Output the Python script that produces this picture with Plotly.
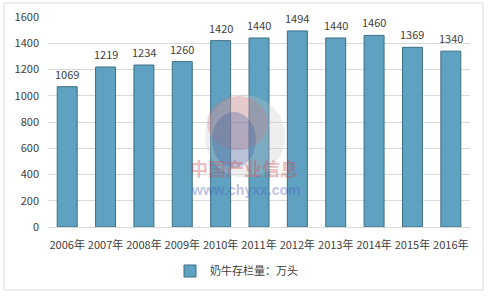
import plotly.graph_objects as go

years = ["2006年", "2007年", "2008年", "2009年", "2010年", "2011年",
         "2012年", "2013年", "2014年", "2015年", "2016年"]
values = [1069, 1219, 1234, 1260, 1420, 1440, 1494, 1440, 1460, 1369, 1340]
series_name = "奶牛存栏量：万头"
y_ticks = [0, 200, 400, 600, 800, 1000, 1200, 1400, 1600]

FONT = "Noto Sans CJK SC"
TXT = "#404040"

fig = go.Figure()
fig.add_trace(go.Bar(
    x=years, y=values, name=series_name,
    marker=dict(color="#5ea1c0", line=dict(color="#3d6e84", width=1)),
    width=0.52,
))

# value labels above bars (data coordinates)
for xv, yv in zip(years, values):
    fig.add_annotation(x=xv, y=yv, text=str(yv), showarrow=False,
                       yanchor="middle", yshift=13,
                       font=dict(family=FONT, size=11, color=TXT))

def px(x):
    return (x - 48) / 422

def py(y):
    return (227 - y) / 210

# watermark
fig.add_shape(type="circle", xref="paper", yref="paper",
              x0=px(205), x1=px(285), y0=py(178), y1=py(95),
              fillcolor="rgba(200,200,200,0.3)", line=dict(width=0), layer="above")
fig.add_shape(type="circle", xref="paper", yref="paper",
              x0=px(207), x1=px(268), y0=py(150), y1=py(96),
              fillcolor="rgba(210,120,125,0.3)", line=dict(width=0), layer="above")
fig.add_shape(type="circle", xref="paper", yref="paper",
              x0=px(212), x1=px(256), y0=py(168), y1=py(112),
              fillcolor="rgba(60,90,160,0.3)", line=dict(width=0), layer="above")
fig.add_annotation(text="<b>中国产业信息</b>", xref="paper", yref="paper",
                   x=px(244), y=py(183), showarrow=False,
                   font=dict(family=FONT, size=18, color="rgba(200,80,85,0.4)"))
fig.add_annotation(text="<b>www.chyxx.com</b>", xref="paper", yref="paper",
                   x=px(245), y=py(200), showarrow=False,
                   font=dict(family="Liberation Sans", size=14, color="rgba(80,100,190,0.4)"))

# outer border
fig.add_shape(type="rect", xref="paper", yref="paper",
              x0=px(4), x1=px(483), y0=py(290), y1=py(3),
              line=dict(color="#d9d9d9", width=1), fillcolor="rgba(0,0,0,0)")

fig.update_layout(
    width=489, height=297,
    margin=dict(l=48, r=19, t=17, b=70, autoexpand=False),
    paper_bgcolor="white", plot_bgcolor="white",
    font=dict(family=FONT, size=11, color=TXT),
    showlegend=True,
    legend=dict(orientation="h", x=px(170), xanchor="left", y=py(271), yanchor="middle",
                itemwidth=30, font=dict(family=FONT, size=11, color=TXT)),
    xaxis=dict(showgrid=False, showline=True, linecolor="#d9d9d9", ticks="",
               tickangle=0, automargin=False, ticklabelstandoff=8,
               tickfont=dict(family=FONT, size=11, color=TXT)),
    yaxis=dict(range=[0, 1600], tickvals=y_ticks, showgrid=True, gridcolor="#d9d9d9",
               zeroline=False, showline=False, ticks="", automargin=False,
               ticklabelstandoff=8,
               tickfont=dict(family=FONT, size=11, color=TXT)),
)

fig.write_html("out.html")
